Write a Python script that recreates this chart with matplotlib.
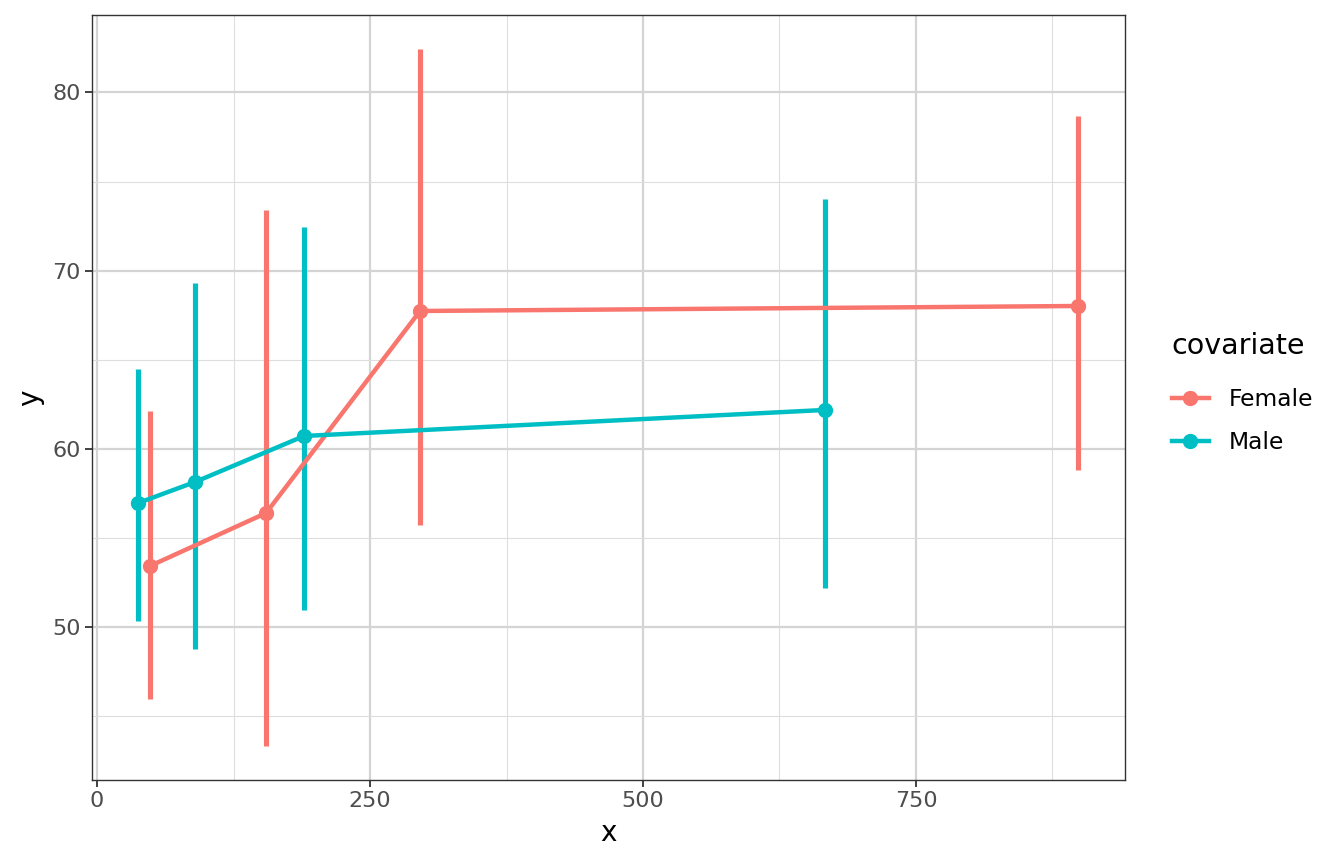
import numpy as np
import matplotlib.pyplot as plt
from matplotlib.ticker import MultipleLocator

# values
female_x = [48.5, 154.8, 295.8, 898.4]
female_y = [53.44, 56.41, 67.74, 68.02]
female_lo = [45.98, 43.34, 55.74, 58.82]
female_hi = [62.13, 73.40, 82.43, 78.68]

male_x = [37.5, 89.7, 189.6, 666.7]
male_y = [56.97, 58.15, 60.73, 62.19]
male_lo = [50.35, 48.78, 50.97, 52.20]
male_hi = [64.49, 69.31, 72.45, 74.02]

groups = ["Female", "Male"]
colors = {"Female": "#F8766D", "Male": "#00BFC4"}

series = {
    "Female": (female_x, female_y, female_lo, female_hi),
    "Male": (male_x, male_y, male_lo, male_hi),
}

fig = plt.figure(figsize=(13.44, 8.65), dpi=100)
ax = fig.add_axes([0.0685, 0.0983, 0.7685, 0.8844])

# error bars first, then lines, then points (ggplot layer order)
for g in groups:
    x, y, lo, hi = series[g]
    ax.vlines(x, lo, hi, color=colors[g], linewidth=3.7, zorder=2)
for g in groups:
    x, y, lo, hi = series[g]
    ax.plot(x, y, color=colors[g], linewidth=3.2, zorder=3)
for g in groups:
    x, y, lo, hi = series[g]
    ax.plot(x, y, "o", color=colors[g], markersize=10, zorder=4)

# legend handles
handles = [plt.Line2D([], [], color=colors[g], linewidth=3.2, marker="o", markersize=10)
           for g in groups]
leg = ax.legend(handles, groups, title="covariate", loc="center left",
                bbox_to_anchor=(1.025, 0.506), frameon=False, fontsize=16.8,
                title_fontsize=20.5, handlelength=1.6, labelspacing=0.85,
                handletextpad=0.85)
leg._legend_box.align = "left"
leg._legend_box.sep = 20

ax.set_xlim(-4.6, 941.4)
ax.set_ylim(41.44, 84.34)
ax.xaxis.set_major_locator(MultipleLocator(250))
ax.xaxis.set_minor_locator(MultipleLocator(125))
ax.yaxis.set_major_locator(MultipleLocator(10))
ax.yaxis.set_minor_locator(MultipleLocator(5))

ax.grid(which="major", color="#d4d4d4", linewidth=1.6, zorder=0)
ax.grid(which="minor", color="#dedede", linewidth=0.8, zorder=0)
ax.set_axisbelow(True)

ax.tick_params(which="major", length=5, width=1.3, color="#333333",
               labelsize=16, labelcolor="#4d4d4d", pad=3)
ax.tick_params(which="minor", length=0)
for sp in ax.spines.values():
    sp.set_color("#333333")
    sp.set_linewidth(1.0)

ax.set_xlabel("x", fontsize=20, labelpad=6)
ax.set_ylabel("y", fontsize=20, labelpad=6)

fig.savefig("out.png", dpi=100)
